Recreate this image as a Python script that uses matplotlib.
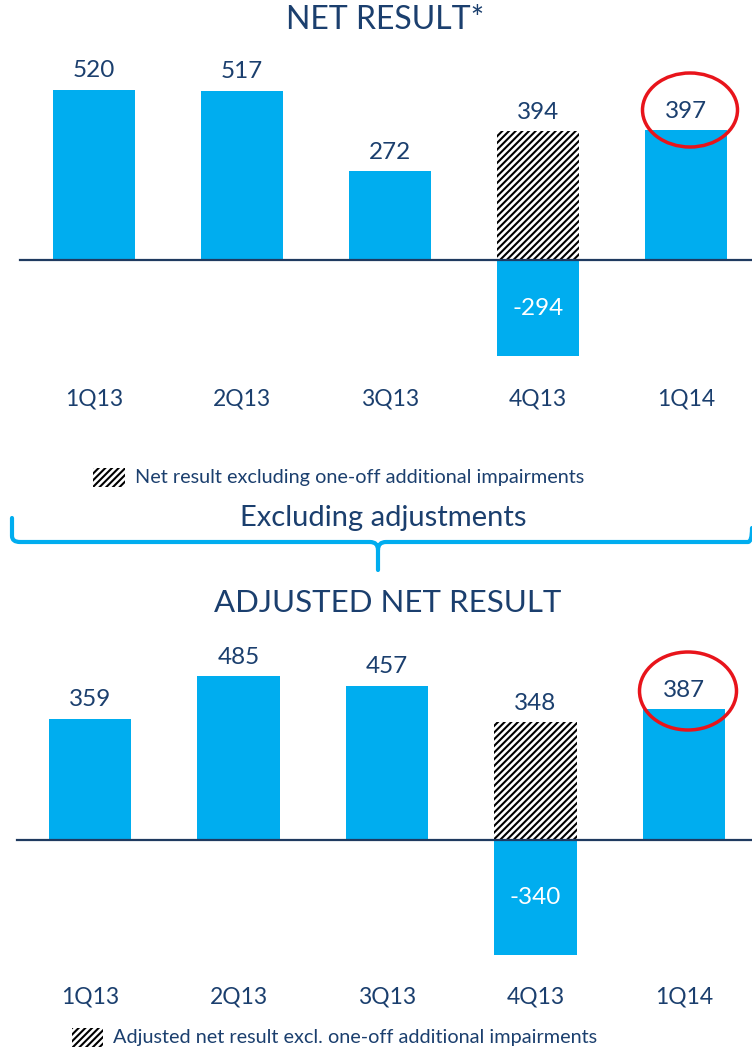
import matplotlib
matplotlib.use('Agg')
import matplotlib.pyplot as plt
from matplotlib.patches import Ellipse, Rectangle, PathPatch
from matplotlib.path import Path

# ---------------- data ----------------
categories = ['1Q13', '2Q13', '3Q13', '4Q13', '1Q14']
net_result = [520, 517, 272, -294, 397]
net_excl_oneoff = [0, 0, 0, 394, 0]          # hatched: excl. one-off impairments
adj_net_result = [359, 485, 457, -340, 387]
adj_excl_oneoff = [0, 0, 0, 348, 0]          # hatched: excl. one-off impairments

title_top = 'NET RESULT*'
title_bottom = 'ADJUSTED NET RESULT'
legend_top = 'Net result excluding one-off additional impairments'
legend_bottom = 'Adjusted net result excl. one-off additional impairments'
brace_text = 'Excluding adjustments'

# ---------------- style ----------------
plt.rcParams['font.family'] = ['Lato', 'DejaVu Sans']
plt.rcParams['hatch.linewidth'] = 1.5
BLUE = '#00ADEF'
NAVY = '#1B3F6E'
AXIS = '#1F3A60'
RED = '#E8141B'
HATCH = '/////'

W, H = 752, 1049
fig = plt.figure(figsize=(W / 100, H / 100), dpi=100)


def make_axes(top_px, bot_px, base_px, scale, x0_px, dx_px):
    ax = fig.add_axes([0, 1 - bot_px / H, 1, (bot_px - top_px) / H])
    ax.set_ylim(-(bot_px - base_px) / scale, (base_px - top_px) / scale)
    ax.set_xlim(-x0_px / dx_px, (W - x0_px) / dx_px)
    ax.axis('off')
    return ax


def draw_chart(ax, values, hatched, base_px, scale, label_px, line_x0):
    x = list(range(len(categories)))
    bw = 0.555
    ax.bar(x, values, width=bw, color=BLUE, zorder=2)
    hx = [i for i, h in enumerate(hatched) if h]
    hv = [h for h in hatched if h]
    ax.bar(hx, hv, width=bw, facecolor='white', edgecolor='black',
           linewidth=0, hatch=HATCH, zorder=2)
    ax.axhline(0, xmin=line_x0 / W, xmax=1, color=AXIS, lw=1.6, zorder=3)
    off = 19 / scale
    for i, v in enumerate(values):
        top = max(v, hatched[i])
        if top > 0:
            ax.text(i, top + off, f'{top:d}', ha='center', va='center',
                    fontsize=17.5, color=NAVY)
        if v < 0:
            ax.text(i, v / 2, f'{v:d}', ha='center', va='center',
                    fontsize=17.5, color='white', zorder=4)
    ly = (base_px - label_px) / scale
    for i, c in enumerate(categories):
        ax.text(i, ly, c, ha='center', va='center', fontsize=16.5, color=NAVY)


ax1 = make_axes(40, 420, 260, 0.327, 94, 148)
draw_chart(ax1, net_result, net_excl_oneoff, 260, 0.327, 399, 20)

ax2 = make_axes(630, 1015, 840, 0.338, 90, 148.5)
draw_chart(ax2, adj_net_result, adj_excl_oneoff, 840, 0.338, 997, 17)

# ---------------- overlay annotations ----------------
ov = fig.add_axes([0, 0, 1, 1])
ov.set_xlim(0, W)
ov.set_ylim(H, 0)
ov.axis('off')

ov.text(385, 20, title_top, ha='center', va='center', fontsize=23, color=NAVY)
ov.text(388, 603, title_bottom, ha='center', va='center', fontsize=22.5, color=NAVY)

# legends
ov.add_patch(Rectangle((93, 468), 32, 19, facecolor='white', edgecolor='black',
                       linewidth=0, hatch=HATCH))
ov.text(135, 478, legend_top, ha='left', va='center', fontsize=14.3, color=NAVY)
ov.add_patch(Rectangle((72, 1028), 31, 19, facecolor='white', edgecolor='black',
                       linewidth=0, hatch=HATCH))
ov.text(113, 1038, legend_bottom, ha='left', va='center', fontsize=14.3, color=NAVY)

# brace
ov.text(383, 518, brace_text, ha='center', va='center', fontsize=21, color=NAVY)
verts = [(12, 518), (12, 536), (12, 542), (20, 542),
         (370, 542), (378, 542), (378, 550), (378, 570),
         (378, 550), (378, 542), (386, 542),
         (748, 542), (752, 542), (752, 528)]
codes = [Path.MOVETO, Path.LINETO, Path.CURVE3, Path.CURVE3,
         Path.LINETO, Path.CURVE3, Path.CURVE3, Path.LINETO,
         Path.MOVETO, Path.CURVE3, Path.CURVE3,
         Path.LINETO, Path.CURVE3, Path.CURVE3]
ov.add_patch(PathPatch(Path(verts, codes), facecolor='none', edgecolor=BLUE,
                       lw=3, capstyle='round', joinstyle='round'))

# highlight ellipses
ov.add_patch(Ellipse((690, 110), 95, 74, facecolor='none', edgecolor=RED, lw=2.5, zorder=5))
ov.add_patch(Ellipse((688, 691), 97, 78, facecolor='none', edgecolor=RED, lw=2.5, zorder=5))

fig.savefig('out.png', dpi=100)
